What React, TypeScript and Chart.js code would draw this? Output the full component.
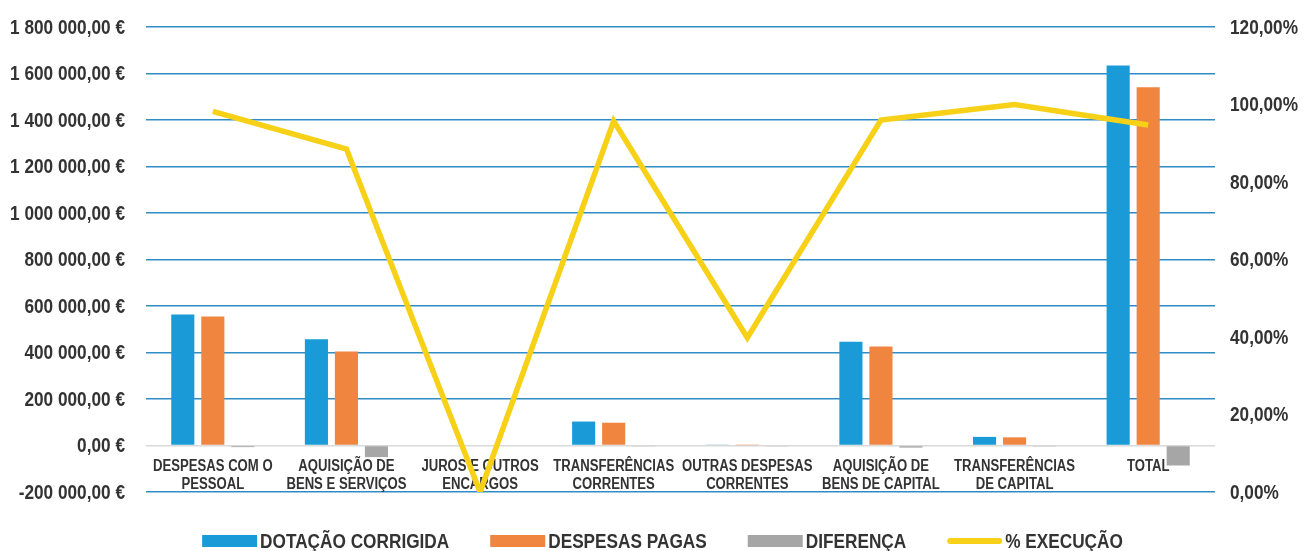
import React, { useEffect, useRef } from "react";
import { Chart, registerables } from "chart.js";

Chart.register(...registerables);

const categories: (string | string[])[] = [
  ["DESPESAS COM O", "PESSOAL"],
  ["AQUISIÇÃO DE", "BENS E SERVIÇOS"],
  ["JUROS E OUTROS", "ENCARGOS"],
  ["TRANSFERÊNCIAS", "CORRENTES"],
  ["OUTRAS DESPESAS", "CORRENTES"],
  ["AQUISIÇÃO DE", "BENS DE CAPITAL"],
  ["TRANSFERÊNCIAS", "DE CAPITAL"],
  "TOTAL",
];

const dotacaoCorrigida = [563000, 457000, 0, 103000, 4000, 446000, 37000, 1634000];
const despesasPagas = [555000, 404000, 0, 98000, 1600, 426000, 35000, 1541000];
const diferenca = [-7000, -50000, 0, -4000, -2400, -9000, -2000, -86000];
const execucao = [98.2, 88.5, 0, 95.7, 39.8, 96.0, 100.0, 94.7];

const seriesLabels = ["DOTAÇÃO CORRIGIDA", "DESPESAS PAGAS", "DIFERENÇA", "% EXECUÇÃO"];

const BLUE = "#1a9bd7";
const ORANGE = "#f08540";
const GRAY = "#a6a6a6";
const YELLOW = "#f7d117";
const GRID = "#2f8dc4";
const TEXT = "#333333";
const FONT = '"Liberation Sans", Arial, sans-serif';
const SX = 0.82; // horizontal condensing (narrow face)

const fmtEuro = (v: number) => {
  const neg = v < 0;
  const parts = Math.abs(v).toFixed(2).split(".");
  const int = parts[0].replace(/\B(?=(\d{3})+(?!\d))/g, " ");
  return (neg ? "-" : "") + int + "," + parts[1] + " €";
};

const fmtPct = (v: number) => v.toFixed(2).replace(".", ",") + "%";

function narrowText(
  ctx: CanvasRenderingContext2D,
  text: string,
  x: number,
  y: number,
  align: CanvasTextAlign,
  size: number
) {
  ctx.save();
  ctx.font = `bold ${size}px ${FONT}`;
  ctx.fillStyle = TEXT;
  ctx.textBaseline = "middle";
  ctx.textAlign = align;
  ctx.translate(x, y);
  ctx.scale(SX, 1);
  ctx.fillText(text, 0, 0);
  ctx.restore();
}

const axisLabelsPlugin = {
  id: "narrowAxisLabels",
  beforeDatasetsDraw(chart: any) {
    const ctx = chart.ctx as CanvasRenderingContext2D;
    const { y, y1, x } = chart.scales;
    const area = chart.chartArea;
    y.ticks.forEach((t: any) => {
      narrowText(ctx, fmtEuro(t.value), area.left - 21, y.getPixelForValue(t.value) + 1, "right", 21);
    });
    y1.ticks.forEach((t: any) => {
      narrowText(ctx, fmtPct(t.value), area.right + 15, y1.getPixelForValue(t.value) + 1, "left", 21);
    });
    const y0 = y.getPixelForValue(0);
    chart.data.labels.forEach((lab: any, i: number) => {
      const lines = Array.isArray(lab) ? lab : [lab];
      const cx = x.getPixelForValue(i);
      lines.forEach((ln: string, k: number) => {
        narrowText(ctx, ln, cx, y0 + 21 + k * 18, "center", 16);
      });
    });
  },
};

const legendPlugin = {
  id: "customLegend",
  afterDraw(chart: any) {
    const ctx = chart.ctx as CanvasRenderingContext2D;
    const ds = chart.data.datasets;
    ctx.save();
    ctx.font = `bold 21px ${FONT}`;
    const boxW = 55;
    const gap = 3;
    const itemGap = 41;
    const widths = ds.map((d: any) => boxW + gap + ctx.measureText(d.label).width * SX);
    const total = widths.reduce((a: number, b: number) => a + b, 0) + itemGap * (ds.length - 1);
    const area = chart.chartArea;
    let x = (area.left + area.right) / 2 - 18 - total / 2;
    const yy = area.bottom + 49;
    ds.forEach((d: any, i: number) => {
      if (d.type === "line") {
        ctx.strokeStyle = d.borderColor;
        ctx.lineWidth = 6;
        ctx.lineCap = "round";
        ctx.beginPath();
        ctx.moveTo(x + 3, yy);
        ctx.lineTo(x + boxW - 3, yy);
        ctx.stroke();
      } else {
        ctx.fillStyle = d.backgroundColor;
        ctx.fillRect(x, yy - 6, boxW, 12);
      }
      narrowText(ctx, d.label, x + boxW + gap, yy + 1, "left", 21);
      x += widths[i] + itemGap;
    });
    ctx.restore();
  },
};

export default function App() {
  const canvasRef = useRef<HTMLCanvasElement | null>(null);

  useEffect(() => {
    document.body.style.margin = "0";
    const canvas = canvasRef.current;
    if (!canvas) return;
    const barCommon = {
      yAxisID: "y",
      order: 1,
      barPercentage: 0.77,
      categoryPercentage: 0.674,
    };
    const chart = new Chart(canvas, {
      type: "bar",
      data: {
        labels: categories,
        datasets: [
          { ...barCommon, type: "bar", label: seriesLabels[0], data: dotacaoCorrigida, backgroundColor: BLUE },
          { ...barCommon, type: "bar", label: seriesLabels[1], data: despesasPagas, backgroundColor: ORANGE },
          { ...barCommon, type: "bar", label: seriesLabels[2], data: diferenca, backgroundColor: GRAY },
          {
            type: "line",
            label: seriesLabels[3],
            data: execucao,
            yAxisID: "y1",
            order: 0,
            borderColor: YELLOW,
            backgroundColor: YELLOW,
            borderWidth: 5.5,
            pointRadius: 0,
            tension: 0,
          },
        ] as any,
      },
      options: {
        animation: false,
        responsive: true,
        maintainAspectRatio: false,
        layout: { padding: { left: 146, right: 90, top: 27, bottom: 59 } },
        plugins: {
          legend: { display: false },
          tooltip: { enabled: false },
        },
        scales: {
          x: {
            position: { y: 0 } as any,
            offset: true,
            grid: { display: false, drawTicks: false },
            border: { display: false },
            ticks: { display: false, autoSkip: false, maxRotation: 0 },
          },
          y: {
            position: "left",
            min: -200000,
            max: 1800000,
            grid: {
              drawTicks: false,
              color: (c: any) => (c.tick && c.tick.value === 0 ? "#d9d9d9" : GRID),
              lineWidth: 1.5,
            },
            border: { display: false },
            ticks: { stepSize: 200000, display: false },
          },
          y1: {
            position: "right",
            min: 0,
            max: 120,
            grid: { display: false, drawTicks: false },
            border: { display: false },
            ticks: { stepSize: 20, display: false },
          },
        },
      },
      plugins: [axisLabelsPlugin, legendPlugin],
    });
    return () => chart.destroy();
  }, []);

  return (
    <div style={{ width: 1305, height: 551, position: "relative", background: "#fff" }}>
      <canvas ref={canvasRef} />
    </div>
  );
}
